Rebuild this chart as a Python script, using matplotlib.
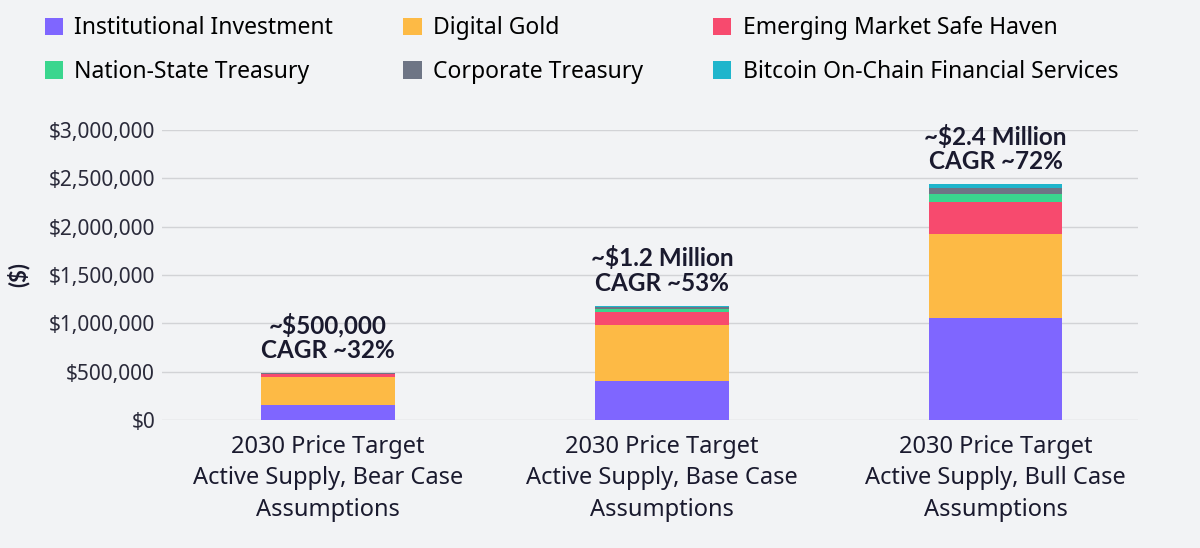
import matplotlib.pyplot as plt
from matplotlib.ticker import FuncFormatter
from matplotlib.patches import Patch
import numpy as np

plt.rcParams['font.family'] = ['Noto Sans', 'DejaVu Sans']

categories = ['2030 Price Target\nActive Supply, Bear Case\nAssumptions',
              '2030 Price Target\nActive Supply, Base Case\nAssumptions',
              '2030 Price Target\nActive Supply, Bull Case\nAssumptions']
series_names = ['Institutional Investment', 'Digital Gold', 'Emerging Market Safe Haven',
                'Nation-State Treasury', 'Corporate Treasury', 'Bitcoin On-Chain Financial Services']
institutional = [155000, 400000, 1050000]
digital_gold = [293000, 580000, 870000]
emerging = [25000, 140000, 330000]
nation_state = [5000, 30000, 90000]
corporate = [5000, 15000, 60000]
on_chain = [3000, 15000, 40000]
annotations = ['~$500,000\nCAGR ~32%', '~$1.2 Million\nCAGR ~53%', '~$2.4 Million\nCAGR ~72%']
colors = ['#7F66FF', '#FDBA45', '#F74A6E', '#3AD68E', '#6E7585', '#1FB5CC']

bg = '#F2F3F5'
bold_font = ['Lato', 'DejaVu Sans']
fig = plt.figure(figsize=(12, 5.48), dpi=100, facecolor=bg)
ax = fig.add_axes([0.135, 0.2336, 0.813, 0.5292], facecolor=bg)

x = np.arange(len(categories))
bottom = np.zeros(len(categories))
for vals, color in zip([institutional, digital_gold, emerging, nation_state, corporate, on_chain], colors):
    ax.bar(x, vals, 0.4, bottom=bottom, color=color, zorder=3)
    bottom += np.array(vals)

for xi, top, txt in zip(x, bottom, annotations):
    ax.text(xi, top + 110000, txt, ha='center', va='bottom', fontsize=17.5,
            fontweight='bold', family=bold_font, color='#1A1A2E', linespacing=1.1)

ax.set_ylim(0, 3000000)
ax.set_xlim(-0.497, 2.425)
ax.set_yticks(np.arange(0, 3000001, 500000))
ax.yaxis.set_major_formatter(FuncFormatter(lambda v, p: '${:,.0f}'.format(v)))
ax.set_xticks(x)
ax.set_xticklabels(categories, fontsize=17, color='#1A1A2E', linespacing=1.4)
ax.tick_params(axis='y', length=0, pad=5, labelsize=15, labelcolor='#2A2A3A')
ax.tick_params(axis='x', length=0, pad=11)
ax.grid(axis='y', color='#D2D3D6', linewidth=1, zorder=0)
for s in ax.spines.values():
    s.set_visible(False)
ax.set_ylabel('($)', fontsize=16, fontweight='bold', family=bold_font, color='#1A1A2E', labelpad=14)

order = [0, 3, 1, 4, 2, 5]
handles = [Patch(facecolor=colors[i], label=series_names[i]) for i in order]
fig.legend(handles=handles, loc='upper left', bbox_to_anchor=(0.02, 1.008), ncol=3,
           frameon=False, fontsize=16.5, handlelength=0.8, handleheight=0.8,
           handletextpad=0.5, columnspacing=3.05, labelspacing=0.85)

plt.savefig('out.png', dpi=100, facecolor=bg)
